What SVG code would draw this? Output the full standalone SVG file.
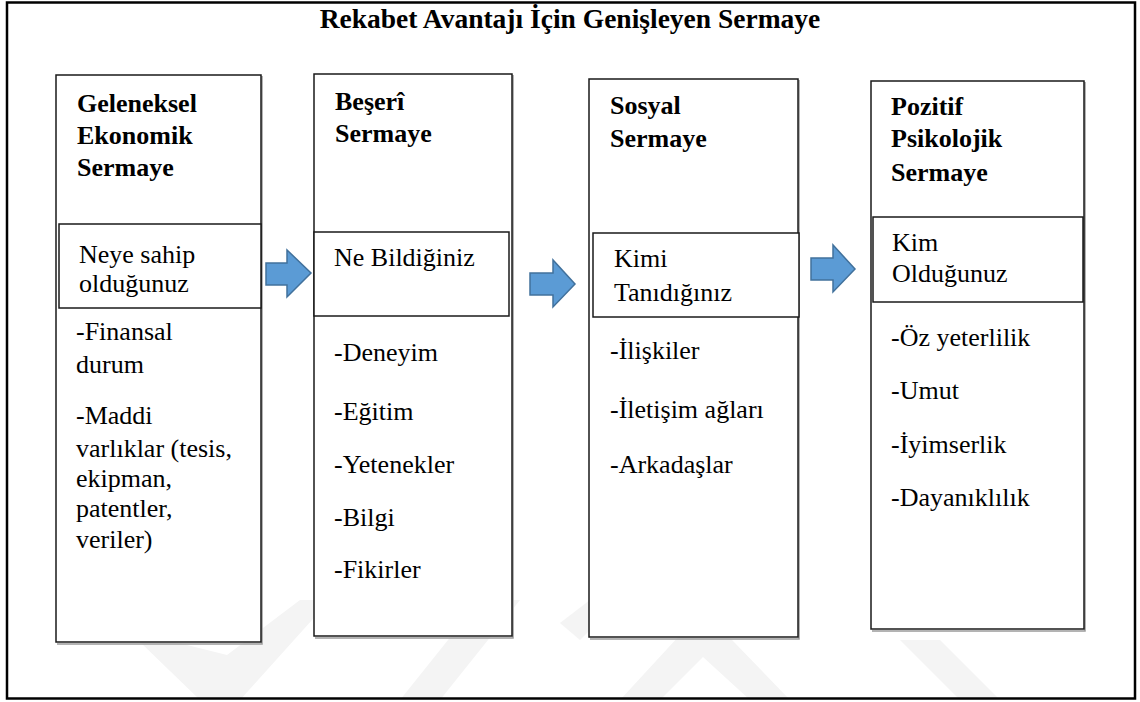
<svg xmlns="http://www.w3.org/2000/svg" width="1140" height="702" viewBox="0 0 1140 702">
<style>
.t{font-family:"Liberation Serif","Times New Roman",serif;font-size:26px;fill:#000}
.b{font-weight:bold}
.box{fill:#fff;stroke:#1a1a1a;stroke-width:1.5}
.sh{fill:none;stroke:#9a9a9a;stroke-width:1.5}
.arr{fill:#5B9BD5;stroke:#41719C;stroke-width:1.5}
.wm{fill:#f4f4f4}
</style>
<rect x="0" y="0" width="1140" height="702" fill="#fff"/>
<g id="watermark">
<polygon class="wm" points="140,642 175,642 227,655 300,600 330,600 240,700 200,700"/>
<polygon class="wm" points="400,700 440,700 520,600 480,600"/>
<polygon class="wm" points="620,700 660,700 703,657 750,700 790,700 703,610"/>
<polygon class="wm" points="560,623 590,600 620,600 580,640"/>
<polygon class="wm" points="900,640 940,640 1000,700 960,700"/>
</g>
<rect x="7" y="2.5" width="1128" height="696" fill="none" stroke="#000" stroke-width="2.5"/>
<text class="t b" x="570" y="28" text-anchor="middle" style="font-size:27.5px">Rekabet Avantajı İçin Genişleyen Sermaye</text>
<g id="connectors">
<polygon class="arr" points="266,263 287,263 287,250 311,273 287,297 287,285 266,285"/>
<polygon class="arr" points="530,273 553,273 553,260 575,284 553,307 553,295 530,295"/>
<polygon class="arr" points="811,258 833,258 833,245 855,269 833,292 833,280 811,280"/>
</g>
<g id="node1">
<polyline class="sh" points="57,644 262,644 262,76"/>
<rect class="box" x="56" y="75" width="205" height="567"/>
<text class="t b" x="77" y="112">Geleneksel</text>
<text class="t b" x="77" y="144">Ekonomik</text>
<text class="t b" x="77" y="176">Sermaye</text>
<rect class="box" x="59" y="224" width="202" height="84"/>
<text class="t" x="79" y="263">Neye sahip</text>
<text class="t" x="79" y="292">olduğunuz</text>
<text class="t" x="76" y="340">-Finansal</text>
<text class="t" x="76" y="373">durum</text>
<text class="t" x="76" y="424">-Maddi</text>
<text class="t" x="76" y="457">varlıklar (tesis,</text>
<text class="t" x="76" y="487">ekipman,</text>
<text class="t" x="76" y="517">patentler,</text>
<text class="t" x="76" y="548">veriler)</text>
</g>
<g id="node2">
<polyline class="sh" points="315,638 513,638 513,75"/>
<rect class="box" x="314" y="74" width="198" height="562"/>
<text class="t b" x="335" y="110">Beşerî</text>
<text class="t b" x="335" y="142">Sermaye</text>
<rect class="box" x="314" y="232" width="195" height="84"/>
<text class="t" x="334" y="266">Ne Bildiğiniz</text>
<text class="t" x="334" y="361">-Deneyim</text>
<text class="t" x="334" y="420">-Eğitim</text>
<text class="t" x="334" y="473">-Yetenekler</text>
<text class="t" x="334" y="526">-Bilgi</text>
<text class="t" x="334" y="578">-Fikirler</text>
</g>
<g id="node3">
<polyline class="sh" points="590,639 799,639 799,80"/>
<rect class="box" x="589" y="79" width="209" height="558"/>
<text class="t b" x="610" y="114">Sosyal</text>
<text class="t b" x="610" y="147">Sermaye</text>
<rect class="box" x="593" y="233" width="206" height="84"/>
<text class="t" x="614" y="267">Kimi</text>
<text class="t" x="614" y="301">Tanıdığınız</text>
<text class="t" x="610" y="359">-İlişkiler</text>
<text class="t" x="610" y="418">-İletişim ağları</text>
<text class="t" x="610" y="473">-Arkadaşlar</text>
</g>
<g id="node4">
<polyline class="sh" points="872,631 1085,631 1085,82"/>
<rect class="box" x="871" y="81" width="213" height="548"/>
<text class="t b" x="891" y="115">Pozitif</text>
<text class="t b" x="891" y="147">Psikolojik</text>
<text class="t b" x="891" y="181">Sermaye</text>
<rect class="box" x="873" y="217" width="210" height="85"/>
<text class="t" x="892" y="251">Kim</text>
<text class="t" x="892" y="282">Olduğunuz</text>
<text class="t" x="891" y="346">-Öz yeterlilik</text>
<text class="t" x="891" y="399">-Umut</text>
<text class="t" x="891" y="453">-İyimserlik</text>
<text class="t" x="891" y="506">-Dayanıklılık</text>
</g>
</svg>
